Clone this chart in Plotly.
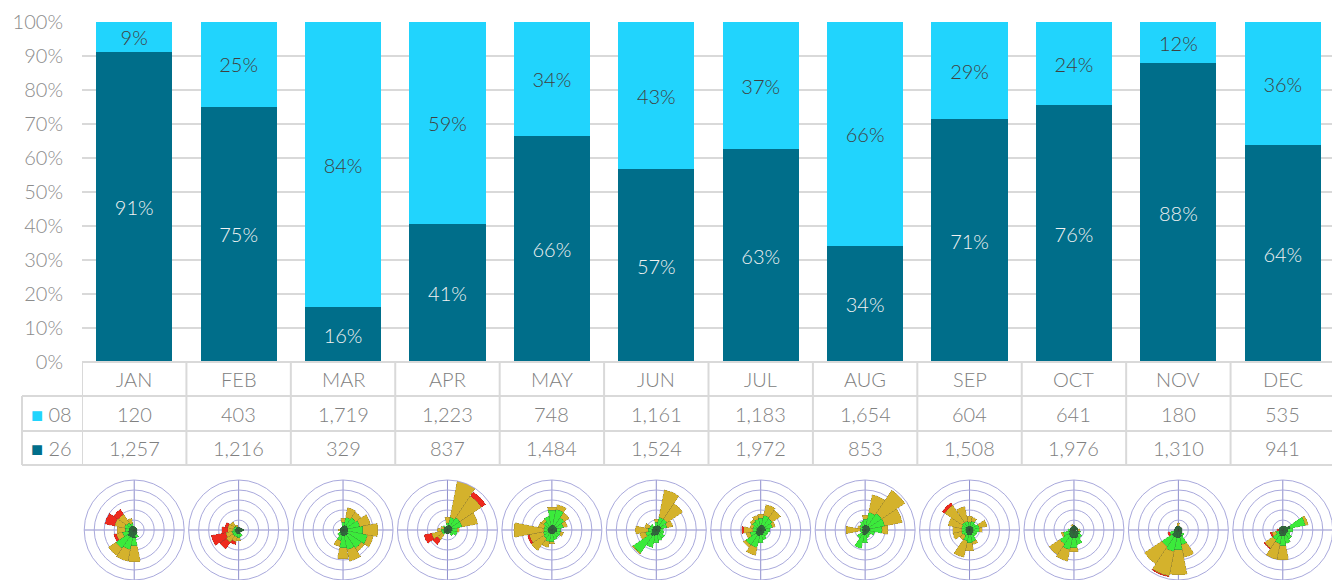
import plotly.graph_objects as go

# ---- data ----
months = ['JAN', 'FEB', 'MAR', 'APR', 'MAY', 'JUN', 'JUL', 'AUG', 'SEP', 'OCT', 'NOV', 'DEC']
runway_08 = [120, 403, 1719, 1223, 748, 1161, 1183, 1654, 604, 641, 180, 535]
runway_26 = [1257, 1216, 329, 837, 1484, 1524, 1972, 853, 1508, 1976, 1310, 941]

directions = [0, 22.5, 45, 67.5, 90, 112.5, 135, 157.5, 180, 202.5, 225, 247.5, 270, 292.5, 315, 337.5]
rose_dark = [
    [0.3, 0.3, 0.3, 0.3, 0.3, 0.3, 0.4, 0.5, 0.8, 0.8, 0.8, 0.6, 0.5, 0.5, 0.5, 0.4],
    [0.3, 0.3, 0.3, 0.4, 0.5, 0.4, 0.3, 0.4, 0.4, 0.4, 0.4, 0.4, 0.4, 0.3, 0.3, 0.3],
    [0.4, 0.5, 0.5, 0.5, 0.5, 0.5, 0.6, 0.6, 0.6, 0.5, 0.4, 0.3, 0.3, 0.3, 0.3, 0.3],
    [0.4, 0.5, 0.5, 0.5, 0.5, 0.4, 0.4, 0.4, 0.4, 0.4, 0.4, 0.4, 0.4, 0.4, 0.4, 0.4],
    [0.5, 0.5, 0.5, 0.5, 0.5, 0.5, 0.4, 0.4, 0.4, 0.4, 0.4, 0.4, 0.4, 0.4, 0.4, 0.4],
    [0.4, 0.5, 0.5, 0.5, 0.4, 0.4, 0.4, 0.5, 0.5, 0.6, 0.7, 0.5, 0.4, 0.4, 0.4, 0.4],
    [0.5, 0.5, 0.5, 0.5, 0.5, 0.4, 0.4, 0.5, 0.5, 0.6, 0.6, 0.5, 0.4, 0.4, 0.4, 0.4],
    [0.5, 0.5, 0.5, 0.5, 0.5, 0.4, 0.4, 0.4, 0.5, 0.5, 0.4, 0.3, 0.3, 0.3, 0.4, 0.4],
    [0.4, 0.4, 0.4, 0.4, 0.4, 0.4, 0.4, 0.5, 0.5, 0.5, 0.4, 0.4, 0.4, 0.4, 0.4, 0.4],
    [0.5, 0.4, 0.4, 0.4, 0.4, 0.5, 0.6, 0.8, 0.8, 0.8, 0.7, 0.5, 0.4, 0.4, 0.4, 0.4],
    [0.4, 0.4, 0.4, 0.4, 0.4, 0.4, 0.5, 0.7, 0.8, 0.8, 0.8, 0.5, 0.4, 0.4, 0.4, 0.4],
    [0.4, 0.4, 0.5, 0.8, 0.5, 0.5, 0.5, 0.6, 0.6, 0.6, 0.5, 0.4, 0.4, 0.4, 0.4, 0.4],
]
rose_green = [
    [0.1, 0, 0, 0, 0, 0, 0, 0.3, 0.8, 1.2, 1.4, 0.6, 0.4, 0.5, 0.4, 0.3],
    [0, 0, 0, 0, 0, 0, 0, 0.3, 0.4, 0.3, 0.3, 0.3, 0.2, 0.2, 0.2, 0],
    [0.4, 0.8, 1.0, 1.2, 1.5, 2.0, 1.6, 1.4, 1.2, 0.6, 0.3, 0, 0, 0, 0, 0],
    [0.3, 0.8, 1.0, 1.0, 0.5, 0.6, 0.3, 0, 0, 0, 0.2, 0.2, 0.2, 0, 0.2, 0],
    [1.5, 1.6, 1.0, 0.7, 0.4, 0.4, 0.5, 0.6, 0.8, 0.8, 0.6, 0.5, 0.4, 0.4, 0.6, 1.0],
    [0.4, 0.8, 0.8, 0.6, 0.3, 0.4, 0.6, 0.6, 0.8, 1.2, 2.1, 0.6, 0.4, 0.3, 0.3, 0],
    [0.7, 1.0, 0.9, 0.7, 0.4, 0.4, 0.4, 0.5, 0.8, 1.2, 1.2, 0.6, 0.4, 0.4, 0.6, 0.7],
    [0.6, 1.3, 1.5, 1.5, 1.2, 0.6, 0.3, 0.4, 0.8, 1.4, 0.6, 0.2, 0.2, 0.2, 0.3, 0.5],
    [0.4, 0.5, 0.4, 0.6, 0.6, 0.4, 0.4, 0.7, 0.8, 0.6, 0.3, 0.4, 0.4, 0.4, 0.5, 0.5],
    [0, 0, 0, 0, 0, 0.2, 0.4, 0.7, 1.0, 1.2, 1.0, 0.6, 0.2, 0, 0, 0],
    [0, 0, 0, 0, 0, 0, 0.2, 0.8, 1.2, 1.4, 1.2, 0.4, 0, 0, 0, 0],
    [0, 0, 0, 1.5, 0.5, 0.3, 0.6, 0.8, 1.0, 0.8, 0.7, 0.3, 0, 0, 0, 0],
]
rose_gold = [
    [0, 0, 0, 0, 0, 0, 0, 0, 1.6, 1.2, 0.9, 0.6, 0.8, 1.0, 1.0, 0.5],
    [0, 0, 0, 0, 0, 0, 0, 0, 0.3, 0.5, 0.8, 0.6, 0.5, 0.6, 0.5, 0.2],
    [0.4, 1.0, 0.7, 1.1, 1.5, 0.6, 0.4, 1.2, 1.1, 0.6, 0, 0, 0.2, 0, 0, 0],
    [0.6, 3.7, 2.6, 1.6, 0.2, 0, 0, 0, 0, 0, 0.6, 1.0, 0.4, 0.3, 0, 0],
    [0.3, 0.5, 0.6, 0.4, 0, 0.3, 0, 0, 0.2, 0.6, 1.5, 1.4, 3.0, 0.6, 0.3, 0],
    [0.3, 2.8, 1.9, 0.6, 0, 0, 0, 0, 0, 0, 0.1, 0.6, 1.3, 0.5, 0, 0],
    [0.4, 1.1, 1.0, 0.3, 0, 0, 0, 0, 0, 0.8, 0.3, 0.4, 0.9, 0.3, 0.3, 0.4],
    [0.4, 1.8, 2.8, 1.8, 0.6, 0, 0, 0, 0, 0, 0, 0, 1.4, 0.3, 0, 0],
    [0.6, 0.4, 0, 0.8, 0.3, 0, 0, 0.3, 0.8, 1.7, 0.5, 0.9, 0.9, 1.4, 2.1, 1.5],
    [0, 0, 0, 0, 0.2, 0, 0, 0, 0.4, 1.2, 1.3, 0.2, 0, 0, 0, 0.2],
    [0.3, 0, 0, 0, 0, 0, 0, 1.3, 2.5, 2.5, 2.1, 0, 0, 0, 0, 0],
    [0, 0, 0, 0.3, 0, 0, 0, 0, 1.4, 1.6, 1.0, 0.4, 0, 0, 0, 0],
]
rose_red = [
    [0, 0, 0, 0, 0, 0, 0, 0, 0, 0, 0, 0.3, 0, 1.0, 0.6, 0],
    [0, 0, 0, 0, 0, 0, 0, 0, 0, 0.3, 0.8, 1.5, 0.6, 0.3, 0, 0],
    [0, 0, 0, 0, 0, 0, 0, 0, 0, 0, 0, 0, 0, 0, 0, 0],
    [0, 0, 0.5, 0, 0, 0, 0, 0, 0, 0, 0.6, 0.8, 0, 0, 0, 0],
    [0, 0, 0, 0, 0, 0, 0, 0, 0, 0, 0, 0.2, 0, 0, 0, 0],
    [0, 0, 0, 0, 0, 0, 0, 0, 0, 0, 0, 0, 0, 0, 0, 0],
    [0, 0, 0, 0, 0, 0, 0, 0, 0, 0, 0, 0, 0.2, 0, 0, 0],
    [0, 0, 0, 0, 0, 0, 0, 0, 0, 0, 0, 0, 0, 0, 0, 0],
    [0, 0, 0, 0, 0, 0, 0, 0, 0, 0, 0, 0, 0, 0, 0.3, 0],
    [0, 0, 0, 0, 0, 0, 0, 0, 0, 0, 0, 0, 0, 0, 0, 0],
    [0, 0, 0, 0, 0, 0, 0, 0, 0, 0.1, 0, 0.2, 0, 0, 0, 0],
    [0, 0, 0, 0, 0, 0, 0, 0, 0, 0, 0.1, 0.2, 0.2, 0, 0, 0],
]

FONT = 'Lato, "DejaVu Sans", sans-serif'
DARK = '#006e8a'
CYAN = '#21d4fd'
GRID = '#d9d9d9'
TXT = '#808080'

# the page body keeps its default 8px margin, so the figure is drawn 8px in
OFF = 8
W, H = 1340 - OFF, 580 - OFF


def px(pix):
    """page column -> paper x"""
    return (pix - OFF) / W


def py(pix):
    """page row -> paper y"""
    return 1 - (pix - OFF) / H


X0, X1 = px(82), px(1335)
Y_BOT, Y_TOP = py(362), py(22)

totals = [a + b for a, b in zip(runway_08, runway_26)]
pct_08 = ['%d%%' % round(100 * a / t) for a, t in zip(runway_08, totals)]
pct_26 = ['%d%%' % round(100 * b / t) for b, t in zip(runway_26, totals)]

fig = go.Figure()

fig.add_trace(go.Bar(
    x=months, y=runway_26, name='26', marker_color=DARK, marker_line_width=0,
    text=pct_26, textposition='inside', insidetextanchor='middle', textangle=0,
    constraintext='none', textfont=dict(color='#f2f2f2', size=20, family=FONT, weight=300),
    hoverinfo='skip'))
fig.add_trace(go.Bar(
    x=months, y=runway_08, name='08', marker_color=CYAN, marker_line_width=0,
    text=pct_08, textposition='inside', insidetextanchor='middle', textangle=0,
    constraintext='none', textfont=dict(color='#404040', size=20, family=FONT, weight=300),
    hoverinfo='skip'))

# ---- data table under the bars ----
annotations = []
cell_font = dict(size=20, color=TXT, family=FONT, weight=300)
rows = [(379, None, months), (413.5, ('08', CYAN), runway_08), (448, ('26', DARK), runway_26)]
for ypix, leg, vals in rows:
    for m, v in zip(months, vals):
        label = v if isinstance(v, str) else f'{v:,}'
        annotations.append(dict(x=m, xref='x', y=py(ypix), yref='paper', text=label,
                                xanchor='center', yanchor='middle',
                                showarrow=False, font=cell_font))
    if leg:
        annotations.append(dict(x=px(29), xref='paper', y=py(ypix), yref='paper',
                                xanchor='left', yanchor='middle',
                                text=f"<span style='color:{leg[1]}'>■</span> {leg[0]}",
                                showarrow=False, font=cell_font))

line = dict(color=GRID, width=2)
shapes = []
for ypix, x_left in [(362, X0), (396, px(22)), (431, px(22)), (465, px(22))]:
    shapes.append(dict(type='line', xref='paper', yref='paper', x0=x_left, x1=X1,
                       y0=py(ypix), y1=py(ypix), line=line))
for k in range(13):
    shapes.append(dict(type='line', xref='x', yref='paper', x0=k - 0.5, x1=k - 0.5,
                       y0=py(362), y1=py(465), line=line))
shapes.append(dict(type='line', xref='paper', yref='paper', x0=px(22), x1=px(22),
                   y0=py(396), y1=py(465), line=line))

# ---- wind roses ----
layer_colors = ['#2d6e3b', '#3bea3b', '#d4b22c', '#ee2a1e']
polar_layout = {}
cat_w = (X1 - X0) / 12
half = 50 / W
for i in range(12):
    name = 'polar' if i == 0 else f'polar{i + 1}'
    for layer, col in zip([rose_dark, rose_green, rose_gold, rose_red], layer_colors):
        fig.add_trace(go.Barpolar(
            r=layer[i], theta=directions, width=22.5, subplot=name,
            marker=dict(color=col, line=dict(color='rgba(60,60,60,0.35)', width=0.5)),
            hoverinfo='skip', showlegend=False))
    cx = X0 + cat_w * (i + 0.5)
    polar_layout[name] = dict(
        domain=dict(x=[cx - half, cx + half], y=[0, 100 / H]),
        bgcolor='white',
        radialaxis=dict(range=[0, 5], tickvals=[1, 2, 3, 4, 5], showticklabels=False,
                        ticks='', showline=False, gridcolor='#a9a9dc', gridwidth=1),
        angularaxis=dict(rotation=90, direction='clockwise', tickvals=[0, 90, 180, 270],
                         showticklabels=False, ticks='', gridcolor='#8f8fcc',
                         showline=True, linecolor='#a9a9dc', linewidth=1),
    )

fig.update_layout(
    width=W, height=H,
    margin=dict(l=0, r=0, t=0, b=0, autoexpand=False),
    paper_bgcolor='white', plot_bgcolor='white',
    barmode='stack', barnorm='percent', bargap=0.27,
    showlegend=False,
    font=dict(family=FONT, color=TXT),
    xaxis=dict(domain=[X0, X1], showticklabels=False, showgrid=False, zeroline=False,
               range=[-0.5, 11.5], automargin=False),
    yaxis=dict(domain=[Y_BOT, Y_TOP], range=[0, 100], dtick=10, ticksuffix='%',
               gridcolor=GRID, gridwidth=2, zeroline=False, showline=False, automargin=False,
               tickfont=dict(size=20, color='#8c8c8c', weight=300), ticklabelstandoff=18),
    annotations=annotations,
    shapes=shapes,
    **polar_layout,
)

fig.write_html("out.html")
